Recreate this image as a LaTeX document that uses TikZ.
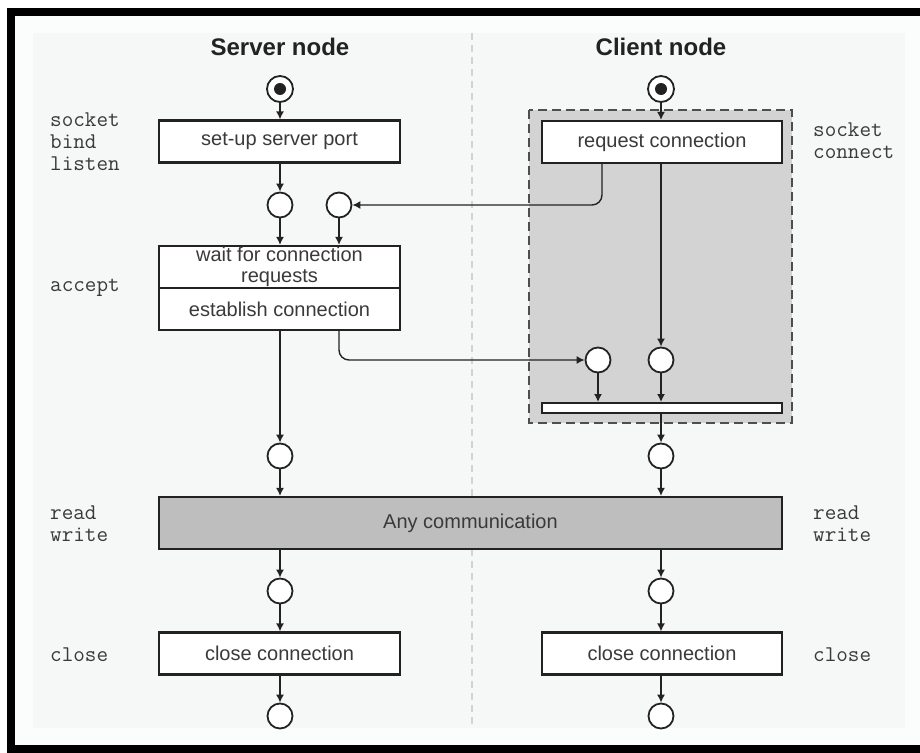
\documentclass[tikz,border=0pt]{standalone}
\usepackage{fontspec}
\setmainfont{Liberation Sans}
\usetikzlibrary{arrows.meta}
\definecolor{pagebg}{HTML}{FBFCFC}
\definecolor{innerbg}{HTML}{F5F8F7}
\definecolor{grayreg}{HTML}{D2D3D2}
\definecolor{commfill}{HTML}{BDBEBD}
\definecolor{ink}{HTML}{222222}
\definecolor{txt}{HTML}{3A3A3A}
\begin{document}
\begin{tikzpicture}[x=1pt,y=-1pt,
  arr/.style={draw=ink, line width=1.4pt, -{Latex[length=8pt,width=8pt]}},
  actbox/.style={draw=ink, line width=2.2pt, fill=white, rectangle, inner sep=0pt,
     minimum width=241pt, minimum height=42pt, text=txt,
     font=\fontsize{20}{21.5}\selectfont, align=center},
  stnode/.style={draw=ink, line width=1.8pt, fill=white, circle, inner sep=0pt, minimum size=25pt},
  startnode/.style={draw=ink, line width=1.8pt, fill=white, circle, inner sep=0pt, minimum size=26pt,
     path picture={\fill[ink] (path picture bounding box.center) circle (6pt);}},
  lbl/.style={font=\ttfamily\fontsize{22.5}{22}\selectfont, text=txt, align=left, anchor=west, inner sep=0pt},
  title/.style={font=\bfseries\fontsize{24}{26}\selectfont, text=ink}
]
\useasboundingbox (0,0) rectangle (920,752);
\fill[white] (0,0) rectangle (920,752);
\fill[pagebg] (15,16) rectangle (920,745);
\fill[innerbg] (33,33) rectangle (905,728);
% frame
\draw[black, line width=8pt] (11,752) -- (11,12) -- (920,12);
\draw[black, line width=8pt] (7,749) -- (920,749);
% lane separator
\draw[gray!35, line width=1.2pt, dash pattern=on 7pt off 5pt] (472,33) -- (472,728);
% client grey region
\filldraw[fill=grayreg, draw=ink!80, line width=1.6pt, dash pattern=on 9pt off 5pt] (529,110) rectangle (792,423);

% titles
\node[title] (tS) at (280,47) {Server node};
\node[title] (tC) at (661,47) {Client node};

% start nodes
\node[startnode] (ss) at (280,89) {};
\node[startnode] (sc) at (661,89) {};

% server boxes
\node[actbox] (setup) at (279.5,141.5) {set-up server port};
\node[actbox] (wait) at (279.5,267) {wait for connection\\requests};
\node[actbox] (est) at (279.5,309) {establish connection};
% client boxes
\node[actbox, minimum width=240pt] (req) at (662,142) {request connection};
\node[actbox, minimum width=240pt, minimum height=10pt, line width=2pt] (bar) at (662,408) {};
% communication
\node[actbox, fill=commfill, minimum width=623pt, minimum height=52pt] (comm) at (470.5,523) {Any communication};
% close boxes
\node[actbox] (closeS) at (279.5,653.5) {close connection};
\node[actbox, minimum width=240pt] (closeC) at (662,653.5) {close connection};

% state circles
\node[stnode] (cs1) at (280,205) {};
\node[stnode] (cs2) at (339,205) {};
\node[stnode] (cc1) at (598,360) {};
\node[stnode] (cc2) at (661,360) {};
\node[stnode] (cs3) at (280,456) {};
\node[stnode] (cc3) at (661,456) {};
\node[stnode] (cs4) at (280,591) {};
\node[stnode] (cc4) at (661,591) {};
\node[stnode] (cs5) at (280,716) {};
\node[stnode] (cc5) at (661,716) {};

% server flow
\draw[arr] (ss) -- (ss |- setup.north);
\draw[arr] (cs1 |- setup.south) -- (cs1);
\draw[arr] (cs1) -- (cs1 |- wait.north);
\draw[arr] (cs2) -- (cs2 |- wait.north);
\draw[arr] (cs3 |- est.south) -- (cs3);
\draw[arr] (cs3) -- (cs3 |- comm.north);
\draw[arr] (cs4 |- comm.south) -- (cs4);
\draw[arr] (cs4) -- (cs4 |- closeS.north);
\draw[arr] (cs5 |- closeS.south) -- (cs5);
% client flow
\draw[arr] (sc) -- (sc |- req.north);
\draw[arr] (cc2 |- req.south) -- (cc2);
\draw[arr] (cc1) -- (cc1 |- bar.north);
\draw[arr] (cc2) -- (cc2 |- bar.north);
\draw[arr] (cc3 |- bar.south) -- (cc3);
\draw[arr] (cc3) -- (cc3 |- comm.north);
\draw[arr] (cc4 |- comm.south) -- (cc4);
\draw[arr] (cc4) -- (cc4 |- closeC.north);
\draw[arr] (cc5 |- closeC.south) -- (cc5);
% cross flows
\draw[arr, rounded corners=10pt] ([xshift=-60pt]req.south) |- (cs2);
\draw[arr, rounded corners=10pt] ([xshift=59.5pt]est.south) |- (cc1);

% API labels
\node[lbl] (l1) at (50,142) {socket\\bind\\listen};
\node[lbl] (l2) at (50,288) {accept};
\node[lbl] (l3) at (50,524) {read\\write};
\node[lbl] (l4) at (50,655) {close};
\node[lbl] (r1) at (813,141) {socket\\connect};
\node[lbl] (r2) at (813,524) {read\\write};
\node[lbl] (r3) at (813,655) {close};
\end{tikzpicture}
\end{document}
